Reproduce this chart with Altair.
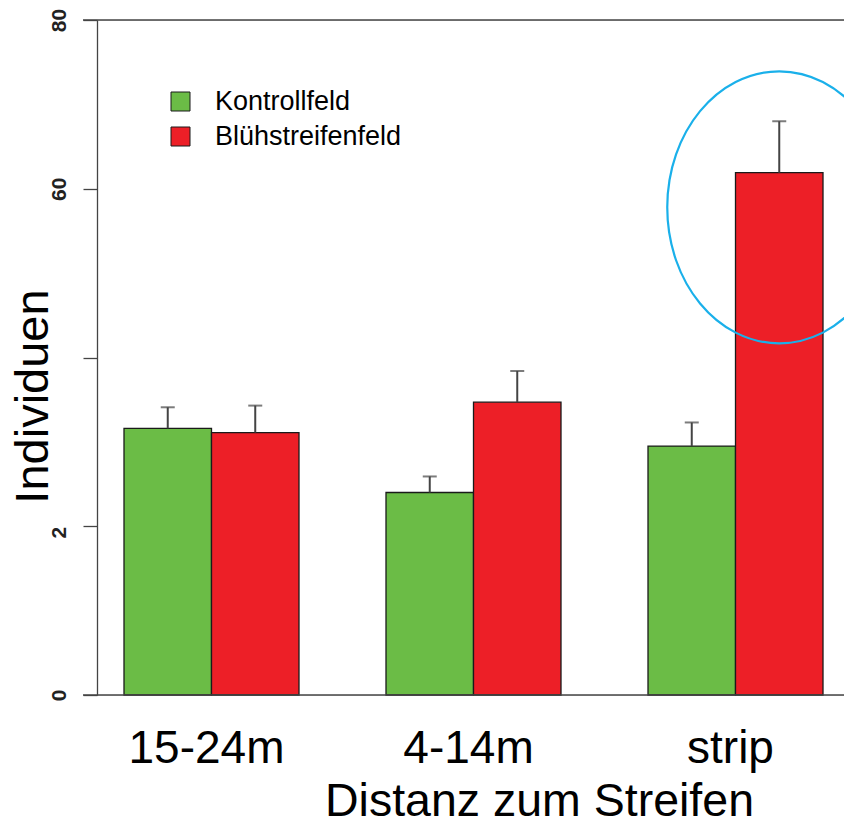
import altair as alt
import pandas as pd

# ---- data ----
categories = ["15-24m", "4-14m", "strip"]
series = ["Kontrollfeld", "Blühstreifenfeld"]
kontroll_mean = [31.6, 24.0, 29.5]
kontroll_se = [2.5, 1.9, 2.8]
bluh_mean = [31.1, 34.7, 61.9]
bluh_se = [3.2, 3.7, 6.1]
colors = ["#6bbc46", "#ed1f27"]
y_ticks = [0, 20, 40, 60, 80]
frame_values = [0, 80]
highlight_category = ["strip"]
highlight_series = ["Blühstreifenfeld"]
highlight_y = [57.8]

rows = []
for i, c in enumerate(categories):
    rows.append({"category": c, "series": series[0], "mean": kontroll_mean[i],
                 "upper": kontroll_mean[i] + kontroll_se[i]})
    rows.append({"category": c, "series": series[1], "mean": bluh_mean[i],
                 "upper": bluh_mean[i] + bluh_se[i]})
df = pd.DataFrame(rows)
frame_df = pd.DataFrame({"v": frame_values})
hl_df = pd.DataFrame({"category": highlight_category, "series": highlight_series,
                      "y": highlight_y})

FONT = "Liberation Sans"
AX = "#444444"

x_enc = alt.X(
    "category:N", sort=categories,
    scale=alt.Scale(paddingInner=0.3321, paddingOuter=0.0916, align=0.5625),
    axis=alt.Axis(
        title="Distanz zum Streifen", domain=False, ticks=False, tickSize=0,
        labelAngle=0, labelFont=FONT, labelFontSize=46, labelColor="black",
        labelPadding=67, labelBaseline="alphabetic", labelOffset=-5,
        titleFont=FONT, titleFontSize=46.5, titleFontWeight="normal",
        titleColor="black", titleX=442, titleY=120, titleAlign="center",
        titleBaseline="alphabetic",
    ),
)
xo_enc = alt.XOffset("series:N", sort=series,
                     scale=alt.Scale(paddingInner=0, paddingOuter=0))
y_scale = alt.Scale(domain=[0, 80], nice=False, zero=True)

y_axis = alt.Axis(
    title="Individuen", values=y_ticks, grid=False,
    domainColor=AX, domainWidth=1.3, tickColor=AX, tickWidth=1.3, tickSize=14,
    labelAngle=270,
    labelAlign={"condition": {"test": "datum.value == 20", "value": "right"},
                "value": "center"},
    labelBaseline="alphabetic",
    labelPadding=18, labelFont=FONT, labelFontSize=21, labelFontWeight="bold",
    labelColor="#222222",
    labelExpr="datum.value == 40 ? '' : (datum.value == 20 ? '2' : datum.label)",
    titleFont=FONT, titleFontSize=47, titleFontWeight="normal", titleColor="black",
    titleAngle=270, titleX=-50, titleY=376, titleAlign="center",
    titleBaseline="alphabetic",
)

bars = alt.Chart(df).mark_bar(stroke="#1a1a1a", strokeWidth=1.3).encode(
    x=x_enc,
    xOffset=xo_enc,
    y=alt.Y("mean:Q", scale=y_scale, axis=y_axis),
    color=alt.Color(
        "series:N", sort=series,
        scale=alt.Scale(domain=series, range=colors),
        legend=alt.Legend(
            title=None, orient="none", legendX=70, legendY=68, padding=0,
            symbolType="square", symbolSize=361, symbolStrokeColor="#1a1a1a",
            symbolStrokeWidth=1, labelFont=FONT, labelFontSize=27,
            labelColor="black", labelOffset=21, rowPadding=7, labelLimit=0,
        ),
    ),
)

err = alt.Chart(df).mark_rule(color=AX, strokeWidth=2).encode(
    x=alt.X("category:N", sort=categories),
    xOffset=alt.XOffset("series:N", sort=series),
    y=alt.Y("mean:Q"),
    y2="upper:Q",
)
caps = alt.Chart(df).mark_tick(color=AX, thickness=2, size=14).encode(
    x=alt.X("category:N", sort=categories),
    xOffset=alt.XOffset("series:N", sort=series),
    y=alt.Y("upper:Q"),
)

frame = alt.Chart(frame_df).mark_rule(color=AX, strokeWidth=1.6).encode(
    y=alt.Y("v:Q"),
    x=alt.value(-14),
    x2=alt.value(760),
)

ellipse_path = "M -0.8235 0 A 0.8235 1 0 1 1 0.8235 0 A 0.8235 1 0 1 1 -0.8235 0 Z"
ellipse = alt.Chart(hl_df).mark_point(
    shape=ellipse_path, filled=False, stroke="#1ab0ea", strokeWidth=2.2,
    size=73984, opacity=1,
).encode(
    x=alt.X("category:N", sort=categories),
    xOffset=alt.XOffset("series:N", sort=series),
    y=alt.Y("y:Q"),
)

chart = alt.layer(bars, err, caps, frame, ellipse).properties(
    width=747, height=675,
    autosize=alt.AutoSizeParams(type="none"),
    padding={"left": 97, "top": 20, "right": 0, "bottom": 133},
).configure_view(stroke=None).configure(background="white")

chart.save("out.html", embed_options={"renderer": "svg", "actions": False})
